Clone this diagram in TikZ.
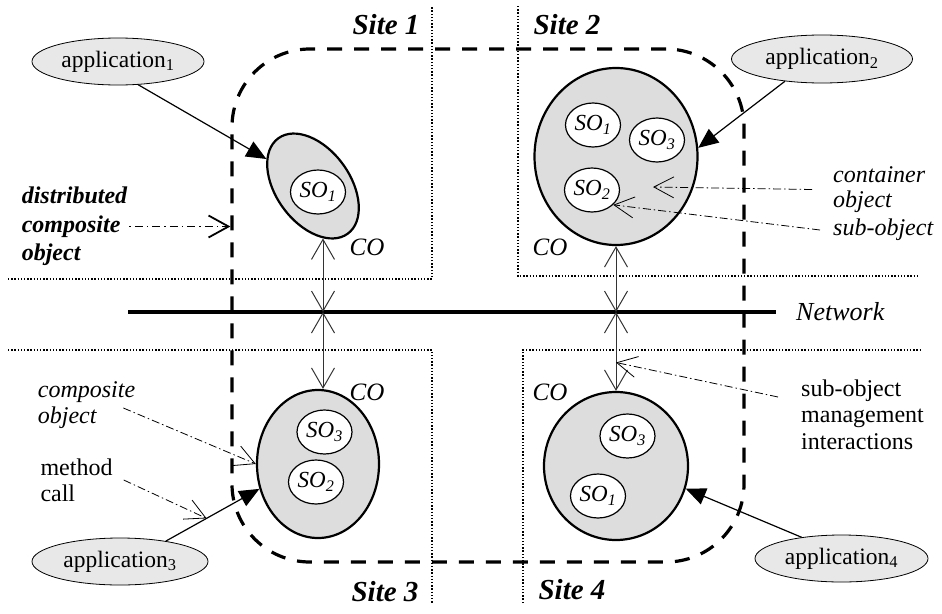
\documentclass[tikz,border=0pt]{standalone}
\usepackage{fontspec}
\setmainfont{Liberation Serif}
\usetikzlibrary{arrows.meta,shapes.geometric,calc}

\begin{document}
\begin{tikzpicture}[x=1pt,y=-1pt,
  txt/.style={inner sep=2pt, font=\fontsize{24}{27}\selectfont},
  app/.style={ellipse, draw, line width=0.8pt, fill=gray!18, inner sep=0pt,
    font=\fontsize{23.5}{26}\selectfont},
  cobj/.style={ellipse, draw, line width=2.2pt, fill=gray!27, inner sep=0pt},
  sobj/.style={ellipse, draw, line width=1.2pt, fill=white, inner sep=0pt,
    minimum width=55pt, minimum height=44pt, font=\fontsize{23}{25}\selectfont\itshape},
  sitebox/.style={line width=1.4pt, dash pattern=on 1.4pt off 1.8pt},
  sitelabel/.style={inner sep=1pt, font=\fontsize{29}{32}\selectfont\bfseries\itshape},
  colabel/.style={inner sep=1pt, font=\fontsize{25}{28}\selectfont\itshape},
  call/.style={line width=1.2pt, -{Triangle[length=20pt,width=17pt]}},
  link/.style={line width=1pt, draw=black!80,
    {Straight Barb[length=20pt,width=23pt]}-{Straight Barb[length=20pt,width=23pt]}},
  note/.style={line width=0.8pt, dash pattern=on 8pt off 3pt on 1.5pt off 3pt,
    -{Straight Barb[length=20pt,width=21pt]}},
]
\useasboundingbox (0,0) rectangle (942,613);

% site boundaries
\draw[sitebox] (8,279) -- (432,279) -- (432,7);
\draw[sitebox] (518,6) -- (518,276) -- (917,276);
\draw[sitebox] (8,350) -- (432,350) -- (432,603);
\draw[sitebox] (523,603) -- (523,350) -- (922,350);

\node[sitelabel] (site1) at (386,25) {Site 1};
\node[sitelabel] (site2) at (567,25) {Site 2};
\node[sitelabel] (site3) at (385,592) {Site 3};
\node[sitelabel] (site4) at (572,590) {Site 4};

% distributed composite object
\node[draw, line width=3.2pt, dash pattern=on 15pt off 12pt, rounded corners=78pt,
  minimum width=512pt, minimum height=513pt] (dist) at (488,305.5) {};

% network
\coordinate (netL) at (128,312);
\coordinate (netR) at (776,312);
\coordinate (n1) at (323,312);
\coordinate (n2) at (616,312);
\draw[line width=4.5pt] (netL) -- (netR);
\node[anchor=west, inner sep=1pt, font=\fontsize{26}{28}\selectfont\itshape] (net) at (795,312) {Network};

% container objects
\node[cobj, rotate=-54, minimum width=118pt, minimum height=74pt] (co1) at (313,186) {};
\node[cobj, minimum width=163pt, minimum height=177pt] (co2) at (616,156.5) {};
\node[cobj, minimum width=122pt, minimum height=148pt] (co3) at (318,464) {};
\node[cobj, minimum width=144pt, minimum height=148pt] (co4) at (616,466) {};

\node[colabel] (lco1) at (367,247) {CO};
\node[colabel] (lco2) at (550,247) {CO};
\node[colabel] (lco3) at (367,392) {CO};
\node[colabel] (lco4) at (550,392) {CO};

% sub-objects
\node[sobj] (s11) at (318,192) {\makebox[0pt]{SO\textsubscript{1}}};
\node[sobj] (s21) at (593,125) {\makebox[0pt]{SO\textsubscript{1}}};
\node[sobj] (s23) at (657,140) {\makebox[0pt]{SO\textsubscript{3}}};
\node[sobj] (s22) at (592,190) {\makebox[0pt]{SO\textsubscript{2}}};
\node[sobj] (s33) at (324.5,432) {\makebox[0pt]{SO\textsubscript{3}}};
\node[sobj] (s32) at (316,482) {\makebox[0pt]{SO\textsubscript{2}}};
\node[sobj] (s43) at (627.5,436) {\makebox[0pt]{SO\textsubscript{3}}};
\node[sobj] (s41) at (598,496) {\makebox[0pt]{SO\textsubscript{1}}};

% applications
\node[app, minimum width=172pt, minimum height=47pt] (app1) at (118,61.5) {application\textsubscript{1}};
\node[app, minimum width=181pt, minimum height=48pt] (app2) at (822,59) {application\textsubscript{2}};
\node[app, minimum width=176pt, minimum height=47pt] (app3) at (120,561.5) {application\textsubscript{3}};
\node[app, minimum width=173pt, minimum height=47pt] (app4) at (841.5,558.5) {application\textsubscript{4}};

% method calls
\draw[call] (app1.-49) -- (co1);
\draw[call] (app2.-149) -- (co2.6);
\draw[call] (app3.24) -- (co3.203);
\draw[call] (app4.152) -- (co4.-18);

% sub-object management links through the network
\draw[link] (n1 |- co1.-25) -- (n1);
\draw[link] (n1) -- (n1 |- co3.north);
\draw[link] (co2.south) -- (n2);
\draw[link] (n2) -- (co4.north);

% annotations
\node[txt, align=left, font=\fontsize{24}{28.5}\selectfont\bfseries\itshape] (dco) at (74.5,226.5) {distributed\\composite\\object};
\draw[note, line width=1.8pt, dash pattern=on 1.5pt off 4pt on 8pt off 4pt,
  -{Straight Barb[length=20pt,width=22pt]}] (dco.east) -- (dco.east -| dist.west);

\node[txt, align=left, anchor=west, font=\fontsize{24}{25}\selectfont\itshape] (cont) at (831,189.5) {container\\object};
\node[txt, anchor=west, font=\fontsize{24}{25}\selectfont\itshape] (subo) at (831,230) {sub-object};
\coordinate (contTip) at (653,187);
\draw[note] ([xshift=-19pt]cont.west) -- (contTip);
\draw[note] ([xshift=-11pt]subo.west) -- (s22.-35);

\node[txt, align=left, font=\fontsize{24}{26}\selectfont\itshape] (compnote) at (86.5,405) {composite\\object};
\draw[note] ([xshift=-14pt,yshift=-3pt]compnote.east) -- (co3.west);

\node[txt, align=left, font=\fontsize{24}{26}\selectfont] (mcall) at (76.5,480) {method\\call};
\draw[note] ([xshift=9pt]mcall.east) -- ($(app3.24)!0.435!(co3.203)$);

\node[txt, align=left, anchor=west, font=\fontsize{24}{26.5}\selectfont] (smi) at (799,414.5) {sub-object\\management\\interactions};
\draw[note] ([xshift=-21pt,yshift=17.5pt]smi.west) -- ($(n2)!0.64!(co4.north)$);

\end{tikzpicture}
\end{document}
